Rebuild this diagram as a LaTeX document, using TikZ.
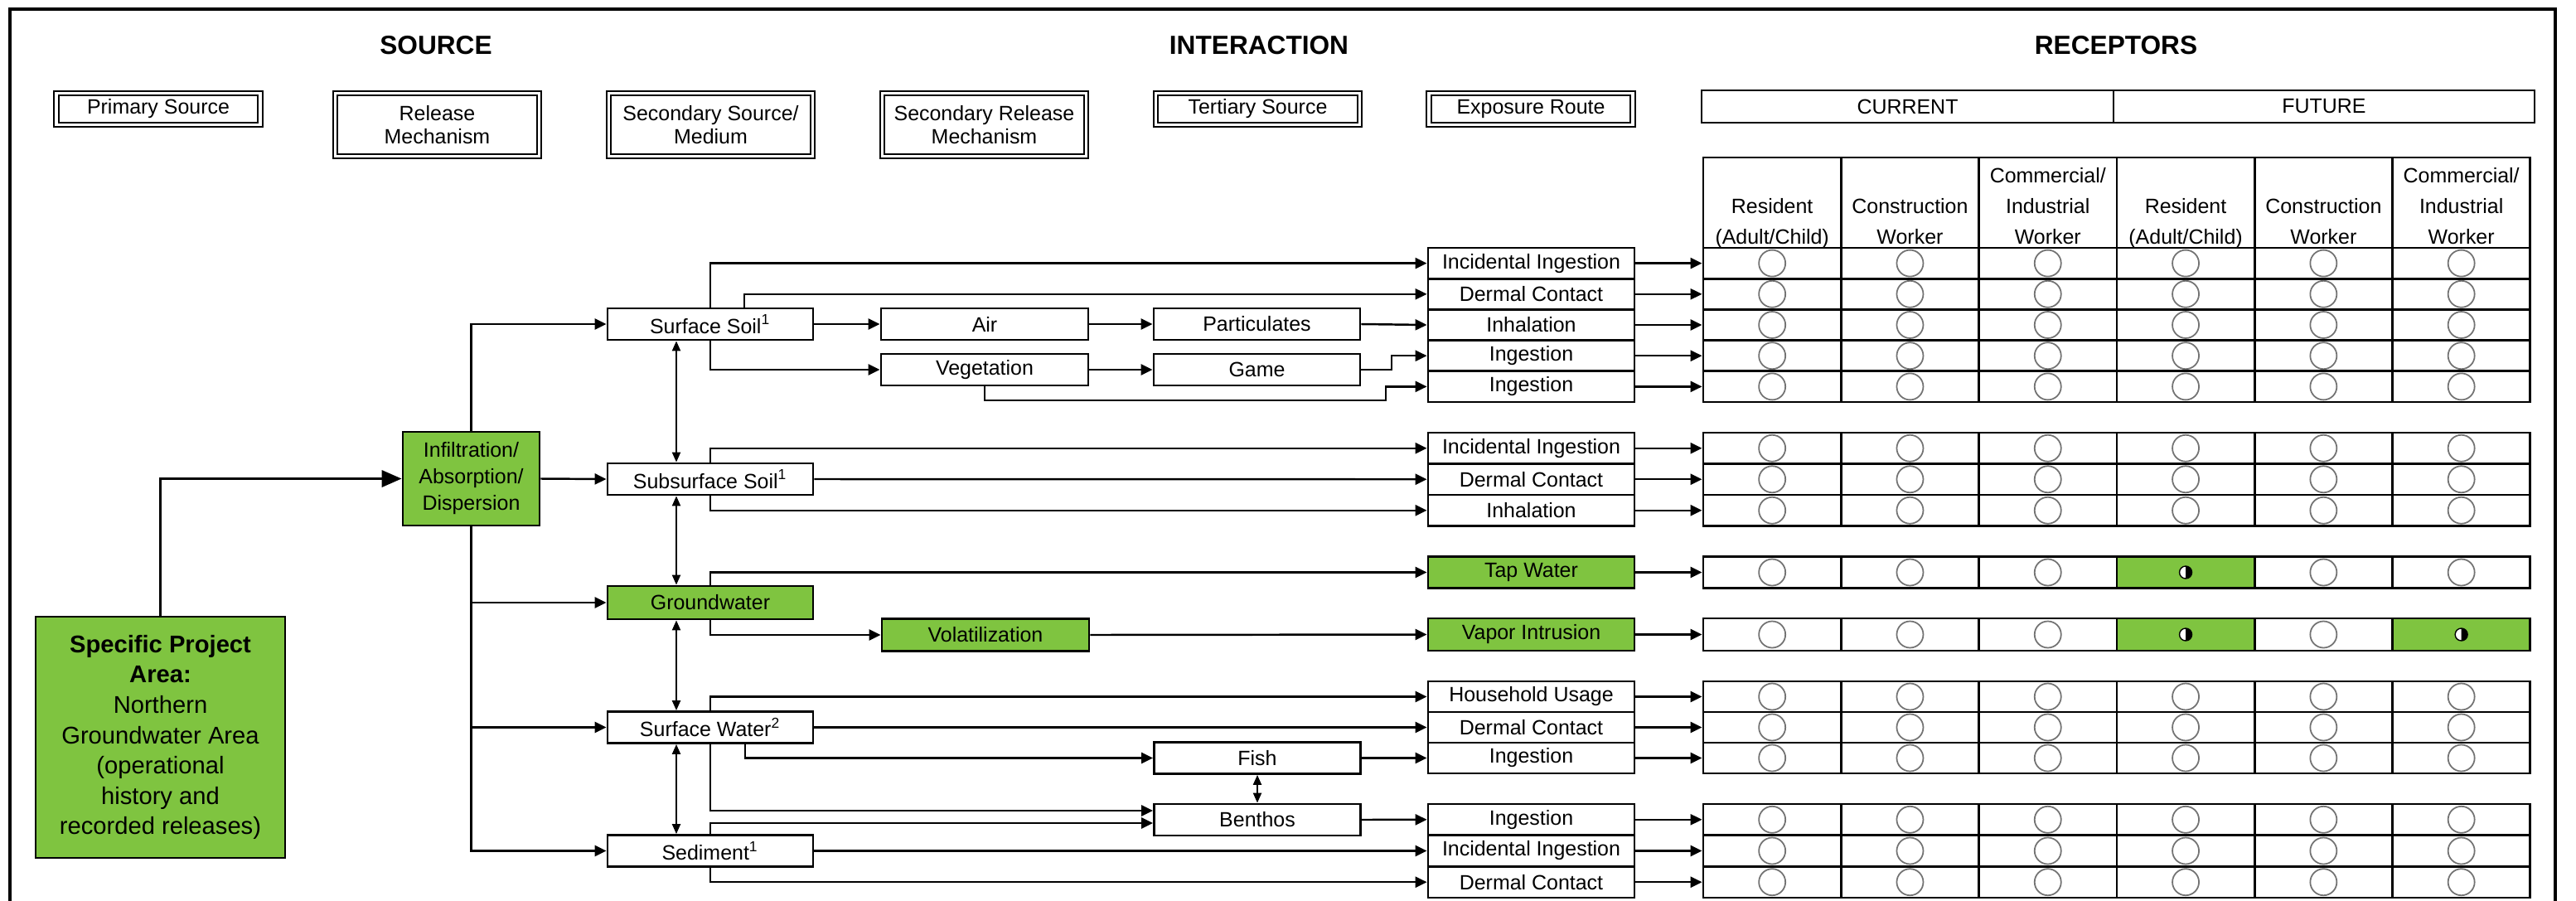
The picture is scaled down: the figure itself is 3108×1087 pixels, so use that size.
\documentclass[tikz,border=0pt]{standalone}
\usepackage{fontspec}
\setmainfont{Liberation Sans}
\usetikzlibrary{arrows.meta}
\definecolor{leaf}{RGB}{127,196,64}

\begin{document}
\begin{tikzpicture}[
                x=0.1mm, y=-0.1mm,
                font=\fontsize{7.1}{8}\selectfont,
                box/.style={draw, line width=0.8pt, fill=white, inner sep=0pt, align=center},
                medbox/.style={box, minimum width=24.8mm, minimum height=3.8mm},
                routebox/.style={box, minimum width=24.9mm},
                headbox/.style={draw, line width=0.6pt, double, double distance=0.9pt, inner sep=0pt, minimum width=24.6mm, align=center},
                heading/.style={font=\fontsize{9}{10}\selectfont\bfseries},
                cell/.style={draw, line width=0.8pt, minimum width=16.63mm, inner sep=0pt},
                headtext/.style={align=center, inner sep=0pt, text depth=1.6pt, font=\fontsize{7.1}{10.4}\selectfont},
                ring/.style={draw=black!55, line width=0.5pt},
                arr/.style={line width=0.7pt, -{Triangle[length=1.4mm, width=1.3mm]}},
                bigarr/.style={line width=1pt, -{Triangle[length=2.4mm, width=2mm]}},
                darr/.style={line width=0.6pt, {Triangle[length=1.2mm, width=1mm]}-{Triangle[length=1.2mm, width=1mm]}}
            ]
            \useasboundingbox (0,0) rectangle (3108,1087);
            \draw[line width=1pt] (12,1100) -- (12,11) -- (3083,11) -- (3083,1100);

            % headings
            \node[heading] (src) at (526,55) {SOURCE};
            \node[heading] (inter) at (1519,55) {INTERACTION};
            \node[heading] (recep) at (2553,55) {RECEPTORS};

            \node[headbox, minimum height=3.8mm] (hprim) at (191,131.5) {Primary Source};
            \node[headbox, minimum height=7.6mm] (hrel) at (527.5,150.5) {Release\\Mechanism};
            \node[headbox, minimum height=7.6mm] (hsec) at (857.5,150.5) {Secondary Source/\\Medium};
            \node[headbox, minimum height=7.6mm] (hsrel) at (1187.5,150.5) {Secondary Release\\Mechanism};
            \node[headbox, minimum height=3.8mm] (hter) at (1517.5,131.5) {Tertiary Source};
            \node[headbox, minimum height=3.8mm] (hexp) at (1847,131.5) {Exposure Route};

            \node[box, minimum width=49.7mm, minimum height=3.9mm] (current) at (2301.5,128.5) {CURRENT};
            \node[box, minimum width=50.8mm, minimum height=3.9mm] (future) at (2804,128.5) {FUTURE};

            % sources and media
            \node[box, fill=leaf, minimum width=30.1mm, minimum height=29.1mm, font=\fontsize{8.3}{10.4}\selectfont] (primary) at (193.5,889.5)
                {\textbf{Specific Project}\\\textbf{Area:}\\Northern\\Groundwater Area\\(operational\\history and\\recorded releases)};
            \node[box, fill=leaf, minimum width=16.5mm, minimum height=11.3mm, font=\fontsize{7.1}{9.1}\selectfont] (infil) at (568.5,577.5)
                {Infiltration/\\Absorption/\\Dispersion};

            \node[medbox] (soil) at (857,391) {Surface Soil\textsuperscript{1}};
            \node[medbox] (subsoil) at (857,578) {Subsurface Soil\textsuperscript{1}};
            \node[medbox, fill=leaf, minimum height=4mm] (gw) at (857,727) {Groundwater};
            \node[medbox] (sw) at (857,877.5) {Surface Water\textsuperscript{2}};
            \node[medbox] (sed) at (857,1026.5) {Sediment\textsuperscript{1}};

            \node[medbox, minimum width=25mm] (air) at (1188,391) {Air};
            \node[medbox, minimum width=25mm] (veg) at (1188,446) {Vegetation};
            \node[medbox, minimum width=25mm, fill=leaf, minimum height=3.9mm] (vol) at (1189,766) {Volatilization};

            \node[medbox, minimum width=24.9mm] (part) at (1516.5,391) {Particulates};
            \node[medbox, minimum width=24.9mm] (game) at (1516.5,446) {Game};
            \node[medbox, minimum width=24.9mm] (fish) at (1517,914.5) {Fish};
            \node[medbox, minimum width=24.9mm] (benthos) at (1517,989) {Benthos};

            % receptor table header
            \foreach \lbl [count=\j] in {{Resident\\(Adult/Child)}, {Construction\\Worker}, {Commercial/\\Industrial\\Worker},
                                         {Resident\\(Adult/Child)}, {Construction\\Worker}, {Commercial/\\Industrial\\Worker}}
            {
                \node[cell, minimum height=10.9mm] (h\j) at ({2055+166.3*(\j-0.5)},244.5) {};
                \node[headtext, anchor=south] (ht\j) at (h\j.south) {\lbl};
            }

            % exposure routes and receptor rows
            \foreach \ry/\rh/\rt/\rf [count=\i] in {
                    317.6/37.2/Incidental Ingestion/white,
                    354.8/37.2/Dermal Contact/white,
                    392.0/37.2/Inhalation/white,
                    429.2/37.2/Ingestion/white,
                    466.4/37.2/Ingestion/white,
                    540.75/37.5/Incidental Ingestion/white,
                    578.25/37.5/Dermal Contact/white,
                    615.75/37.5/Inhalation/white,
                    690.5/38/Tap Water/leaf,
                    765.5/39/Vapor Intrusion/leaf,
                    840.5/37/Household Usage/white,
                    877.5/37/Dermal Contact/white,
                    914.5/37/Ingestion/white,
                    988.8/37.7/Ingestion/white,
                    1026.5/37.7/Incidental Ingestion/white,
                    1064.2/37.7/Dermal Contact/white}
            {
                \node[routebox, minimum height=\rh*0.1mm, fill=\rf] (r\i) at (1847.5,\ry) {\rt};
                \foreach \j in {1,...,6} {
                    \pgfmathtruncatemacro\isleaf{(\i==9 && \j==4) || (\i==10 && (\j==4 || \j==6))}
                    \ifnum\isleaf=1
                        \node[cell, fill=leaf, minimum height=\rh*0.1mm] (c\i-\j) at ({2055+166.3*(\j-0.5)},\ry) {};
                        \draw[line width=0.4pt, fill=white] (c\i-\j) circle[radius=7.5];
                        \fill (c\i-\j) ++(0,-7.5) arc[start angle=-90, end angle=90, radius=7.5] -- cycle;
                    \else
                        \node[cell, minimum height=\rh*0.1mm] (c\i-\j) at ({2055+166.3*(\j-0.5)},\ry) {};
                        \draw[ring] (c\i-\j) circle[radius=16];
                    \fi
                }
                \draw[arr] (r\i.east) -- (c\i-1.west);
            }

            % release
            \draw[bigarr] (primary.north) |- (infil.west);
            \draw[arr] (infil.north) |- (soil.west);
            \draw[arr] (infil.east) -- (subsoil.west);
            \draw[arr] (infil.south) |- (gw.west);
            \draw[arr] (infil.south) |- (sw.west);
            \draw[arr] (infil.south) |- (sed.west);

            \draw[darr] ([xshift=-4.1mm]soil.south) -- ([xshift=-4.1mm]subsoil.north);
            \draw[darr] ([xshift=-4.1mm]subsoil.south) -- ([xshift=-4.1mm]gw.north);
            \draw[darr] ([xshift=-4.1mm]gw.south) -- ([xshift=-4.1mm]sw.north);
            \draw[darr] ([xshift=-4.1mm]sw.south) -- ([xshift=-4.1mm]sed.north);

            % surface soil
            \draw[arr] (soil.north) |- (r1.west);
            \draw[arr] ([xshift=4.1mm]soil.north) |- (r2.west);
            \draw[arr] (soil.east) -- (air.west);
            \draw[arr] (air.east) -- (part.west);
            \draw[arr] (part.east) -- (r3.west);
            \draw[arr] (soil.south) |- (veg.west);
            \draw[arr] (veg.east) -- (game.west);
            \coordinate (gamejog) at (1679,446);
            \draw[arr] (game.east) -- (gamejog) |- (r4.west);
            \coordinate (vegjog) at (1672,483);
            \draw[arr] (veg.south) |- (vegjog) |- (r5.west);

            % subsurface soil
            \draw[arr] (subsoil.north) |- (r6.west);
            \draw[arr] (subsoil.east) -- (r7.west);
            \draw[arr] (subsoil.south) |- (r8.west);

            % groundwater
            \draw[arr] (gw.north) |- (r9.west);
            \draw[arr] (gw.south) |- (vol.west);
            \draw[arr] (vol.east) -- (r10.west);

            % surface water and sediment
            \draw[arr] (sw.north) |- (r11.west);
            \draw[arr] (sw.east) -- (r12.west);
            \draw[arr] ([xshift=4.2mm]sw.south) |- (fish.west);
            \draw[arr] (fish.east) -- (r13.west);
            \draw[arr] (sw.south) |- ([yshift=1.1mm]benthos.west);
            \draw[arr] (sed.north) |- ([yshift=-0.4mm]benthos.west);
            \draw[darr] (fish.south) -- (benthos.north);
            \draw[arr] (benthos.east) -- (r14.west);
            \draw[arr] (sed.east) -- (r15.west);
            \draw[arr] (sed.south) |- (r16.west);

        \end{tikzpicture}
\end{document}
